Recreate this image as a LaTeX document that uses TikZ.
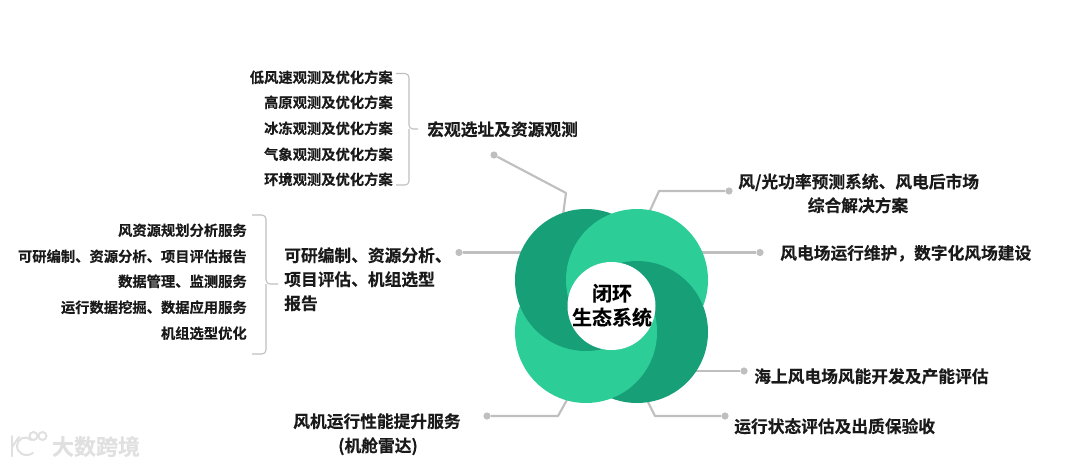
\documentclass[tikz,border=0pt]{standalone}
\usepackage{fontspec}
\setmainfont{Noto Sans CJK SC}[BoldFont=* Bold,BoldFeatures={FakeBold=0.25}]
\definecolor{ringdark}{HTML}{17A078}
\definecolor{ringlight}{HTML}{2DCD98}
\definecolor{linegray}{HTML}{BFBFBF}
\definecolor{txt}{HTML}{1A1A1A}
\definecolor{wmark}{HTML}{E0E0E0}
\tikzset{
  link/.style={draw=linegray,line width=1.6pt,line join=round},
  brace/.style={draw=linegray,line width=.8pt,rounded corners=3pt},
  enddot/.style={circle,fill=linegray,inner sep=0pt,minimum size=5.4pt},
  small/.style={inner sep=0pt,yshift=-.2pt,text=txt,font=\fontsize{10.72pt}{13pt}\bfseries},
  big/.style={inner sep=0pt,yshift=-.2pt,text=txt,font=\fontsize{12.55pt}{18pt}\bfseries},
  core/.style={inner sep=0pt,yshift=-.2pt,text=black,font=\fontsize{15pt}{18pt}\bfseries},
  logo/.style={draw=wmark,line width=1.5pt,line cap=round},
}
\begin{document}
\begin{tikzpicture}[x=.75pt,y=-.75pt]
\useasboundingbox (0,0) rectangle (1080,465);
% end dots and knees
\node[enddot] (d1) at (494,155) {};
\coordinate (k1) at (566,193);  \coordinate (r1) at (563,215);
\node[enddot] (d2) at (729,191) {};
\coordinate (k2) at (659,191);  \coordinate (r2) at (648,215);
\node[enddot] (d3) at (760,252.5) {};
\coordinate (r3) at (695,252.5);
\node[enddot] (d4) at (744,371) {};
\coordinate (r4) at (690,371);
\node[enddot] (d5) at (725,416) {};
\coordinate (k5) at (655,416);  \coordinate (r5) at (646,398);
\node[enddot] (d6) at (487,416) {};
\coordinate (k6) at (558,416);  \coordinate (r6) at (568,398);
\node[enddot] (d7) at (459,252.5) {};
\coordinate (r7) at (530,252.5);
\draw[link] (d1) -- (k1) -- (r1);
\draw[link] (d2) -- (k2) -- (r2);
\draw[link] (d3) -- (r3);
\draw[link] (d4) -- (r4);
\draw[link] (d5) -- (k5) -- (r5);
\draw[link] (d6) -- (k6) -- (r6);
\draw[link] (d7) -- (r7);
% ring: cyclic overlap of four discs, with a white hole
\fill[ringdark]  (586,280) circle (71);
\fill[ringlight] (637,280) circle (71);
\fill[ringdark]  (637,332) circle (71);
\begin{scope}
  \clip (500,306) rectangle (720,420);
  \fill[ringlight] (586,332) circle (71);
\end{scope}
\begin{scope}
  \clip (500,306) rectangle (611.5,420);
  \fill[ringdark] (586,280) circle (71);
\end{scope}
\fill[white] (611.5,306) circle (44);
\node[core] (c1) at (612,293) {闭环};
\node[core] (c2) at (612,317) {生态系统};
% top group
\node[small,anchor=east] (a1) at (393,77)  {低风速观测及优化方案};
\node[small,anchor=east] (a2) at (393,102) {高原观测及优化方案};
\node[small,anchor=east] (a3) at (393,128) {冰冻观测及优化方案};
\node[small,anchor=east] (a4) at (393,154) {气象观测及优化方案};
\node[small,anchor=east] (a5) at (393,179) {环境观测及优化方案};
\draw[brace] (396,73.5) -- (409,73.5) -- (409,129) -- (418,129);
\draw[brace] (396,185) -- (409,185) -- (409,129);
\node[big,anchor=west] (ta) at (427,129) {宏观选址及资源观测};
% left group
\node[small,anchor=east] (b1) at (247,230) {风资源规划分析服务};
\node[small,anchor=east] (b2) at (247,256) {可研编制、资源分析、项目评估报告};
\node[small,anchor=east] (b3) at (247,281) {数据管理、监测服务};
\node[small,anchor=east] (b4) at (247,307) {运行数据挖掘、数据应用服务};
\node[small,anchor=east] (b5) at (247,333) {机组选型优化};
\draw[brace] (252,215) -- (266,215) -- (266,284) -- (278,284);
\draw[brace] (252,354) -- (266,354) -- (266,284);
\node[big,anchor=west] (tb1) at (284,255) {可研编制、资源分析、};
\node[big,anchor=west] (tb2) at (284,279) {项目评估、机组选型};
\node[big,anchor=west] (tb3) at (284,303) {报告};
% right labels
\node[big,anchor=west] (t2a) at (738,182) {风/光功率预测系统、风电后市场};
\node[big] (t2b) at (858,205) {综合解决方案};
\node[big,anchor=west] (t3) at (780,253) {风电场运行维护\char"FF0C 数字化风场建设};
\node[big,anchor=west] (t4) at (754,376) {海上风电场风能开发及产能评估};
\node[big,anchor=west] (t5) at (734,426) {运行状态评估及出质保验收};
\node[big,anchor=west] (t6a) at (293,421) {风机运行性能提升服务};
\node[big] (t6b) at (378,446) {(机舱雷达)};
% watermark
\draw[logo] (12,436) -- (12,456);
\draw[logo] (12,447) -- (19,437);
\draw[logo] (31,440) .. controls (24,434) and (17,440) .. (17,446) .. controls (17,453) and (25,458) .. (33,453);
\draw[logo] (33.5,436) circle (4);
\draw[logo] (42.5,436) circle (4);
\node[inner sep=0pt,text=wmark,font=\fontsize{16.5pt}{18pt}\bfseries] (wm) at (96,446.5) {大数跨境};
\end{tikzpicture}
\end{document}
